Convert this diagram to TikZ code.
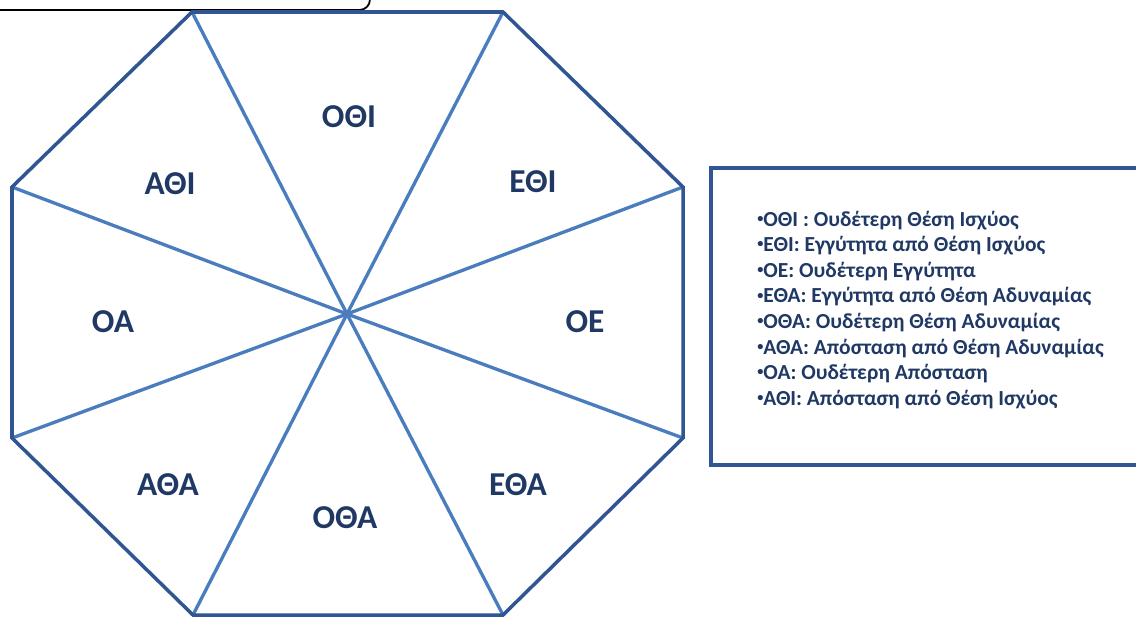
\documentclass[tikz,border=0pt]{standalone}
\usepackage{fontspec}
\setmainfont{Carlito}
\definecolor{edgeblue}{HTML}{2F5592}
\definecolor{spokeblue}{HTML}{4A7DBD}
\definecolor{labelnavy}{HTML}{1F3864}
\newcommand\lbul{\raisebox{0.35ex}{\fontsize{7}{7}\selectfont•}}
\begin{document}
\begin{tikzpicture}[x=0.02cm,y=-0.02cm,
  edge/.style={draw=edgeblue,line width=2pt,line join=miter},
  spoke/.style={draw=spokeblue,line width=1.9pt},
  seclabel/.style={font=\fontsize{19}{22}\selectfont\bfseries,text=labelnavy,inner sep=0pt},
  legline/.style={font=\fontsize{12.2}{14}\selectfont\bfseries,text=labelnavy,inner sep=0pt,anchor=base west},
  legbox/.style={draw=edgeblue,line width=2pt},
  topbox/.style={draw=black,line width=1pt,rounded corners=6pt}]
\useasboundingbox (0,0) rectangle (1136,619);
\begin{scope}
\clip (0,0) rectangle (1136,619);
% top partial rounded box
\draw[topbox] (-20,-40) rectangle (370,10);
% octagon vertices
\coordinate (c) at (347,314);
\coordinate (v1) at (192,12);
\coordinate (v2) at (503,12);
\coordinate (v3) at (683,187);
\coordinate (v4) at (683,438);
\coordinate (v5) at (503,615);
\coordinate (v6) at (193,615);
\coordinate (v7) at (12,438);
\coordinate (v8) at (12,187);
\foreach \i in {1,...,8} \draw[spoke] (c) -- (v\i);
\draw[edge] (v1) -- (v2) -- (v3) -- (v4) -- (v5) -- (v6) -- (v7) -- (v8) -- cycle;
% legend box
\draw[legbox] (711,168) rectangle (1150,465);
\end{scope}
% sector labels
\node[seclabel] (l1) at (349,117) {ΟΘΙ};
\node[seclabel] (l2) at (533,182) {ΕΘΙ};
\node[seclabel] (l3) at (585,322) {ΟΕ};
\node[seclabel] (l4) at (518,485) {ΕΘΑ};
\node[seclabel] (l5) at (345,518) {ΟΘΑ};
\node[seclabel] (l6) at (168,485) {ΑΘΑ};
\node[seclabel] (l7) at (113,322) {ΟΑ};
\node[seclabel] (l8) at (170,184) {ΑΘΙ};
% legend lines
\node[legline] (g1) at (757,226.0) {\lbul ΟΘΙ : Ουδέτερη Θέση Ισχύος};
\node[legline] (g2) at (757,251.6) {\lbul ΕΘΙ: Εγγύτητα από Θέση Ισχύος};
\node[legline] (g3) at (757,277.2) {\lbul ΟΕ: Ουδέτερη Εγγύτητα};
\node[legline] (g4) at (757,302.8) {\lbul ΕΘΑ: Εγγύτητα από Θέση Αδυναμίας};
\node[legline] (g5) at (757,328.4) {\lbul ΟΘΑ: Ουδέτερη Θέση Αδυναμίας};
\node[legline] (g6) at (757,354.0) {\lbul ΑΘΑ: Απόσταση από Θέση Αδυναμίας};
\node[legline] (g7) at (757,379.6) {\lbul ΟΑ: Ουδέτερη Απόσταση};
\node[legline] (g8) at (757,405.2) {\lbul ΑΘΙ: Απόσταση από Θέση Ισχύος};
\end{tikzpicture}
\end{document}
